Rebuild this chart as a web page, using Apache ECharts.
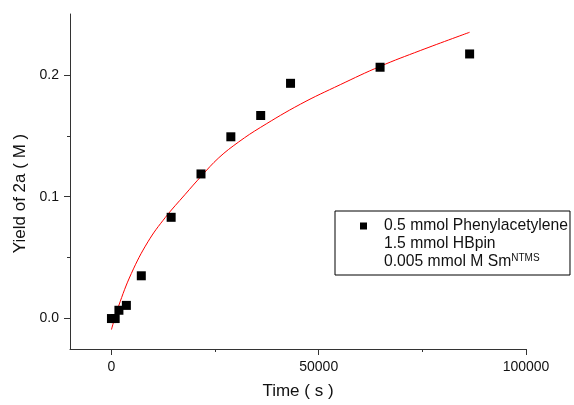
<!DOCTYPE html>
<html>
<head>
<meta charset="utf-8">
<script src="https://cdn.jsdelivr.net/npm/echarts@6/dist/echarts.min.js"></script>
<style>
  html, body { margin: 0; padding: 0; background: #fff; }
  #char { width: 574px; height: 405px; }
</style>
</head>
<body>
<div id="char"></div>
<script>
// measured points
var timeS = [0, 900, 1800, 3600, 7200, 14400, 21600, 28800, 36000, 43200, 64800, 86400]
var yieldM = [0, 0, 0.0068, 0.0108, 0.0351, 0.0831, 0.1187, 0.1492, 0.1667, 0.1931, 0.2063, 0.2172]

// red fit line
var fitT = [0, 1700, 4800, 8800, 13000, 17800, 21700, 25900, 30700, 36000, 45600, 55200, 64800, 74500, 86400]
var fitY = [-0.009, 0.010, 0.037, 0.063, 0.083, 0.102, 0.117, 0.132, 0.145, 0.157, 0.176, 0.192, 0.207, 0.220, 0.235]

var xTicks = [0, 50000, 100000]
var xMinor = [25000, 75000]
var yTicks = [0, 0.1, 0.2]
var yMinor = [0.05, 0.15]

var legendNames = ['0.5 mmol Phenylacetylene', '1.5 mmol HBpin', '0.005 mmol M SmNTMS']

var font = 'Liberation Sans, Arial, sans-serif'
var chart = echarts.init(document.getElementById('char'))

function pairs (xs, ys) {
  return xs.map(function (x, i) { return [x, ys[i]] })
}

var option = {
  backgroundColor: '#fff',
  animation: false,
  grid: { left: 70, right: 48, top: 14, bottom: 52, containLabel: false },
  legend: {
    left: 335,
    top: 211,
    orient: 'vertical',
    selectedMode: false,
    backgroundColor: '#fff',
    borderColor: '#000',
    borderWidth: 1,
    borderRadius: 0,
    padding: [6, 2, 4, 25],
    itemWidth: 7,
    itemHeight: 7,
    itemGap: 0,
    data: [
      { name: legendNames[0], icon: 'rect', itemStyle: { color: '#000', opacity: 1 } },
      { name: legendNames[1], icon: 'none' },
      { name: legendNames[2], icon: 'none' }
    ],
    formatter: function (name) {
      return name.replace('NTMS', '{sup|NTMS}')
    },
    textStyle: {
      fontFamily: font,
      fontSize: 15.7,
      lineHeight: 18,
      color: '#111',
      padding: [0, 0, 0, 12],
      rich: {
        sup: { fontFamily: font, fontSize: 10, color: '#111', padding: [0, 0, 8, 0] }
      }
    }
  },
  xAxis: [{
    type: 'value',
    min: -10000,
    max: 100000,
    name: 'Time ( s )',
    nameLocation: 'middle',
    nameGap: 34,
    nameTextStyle: { fontFamily: font, fontSize: 17, color: '#111' },
    splitLine: { show: false },
    axisLine: { show: true, onZero: false, lineStyle: { color: '#333', width: 1 } },
    axisTick: { show: true, inside: false, length: 6, customValues: xTicks, lineStyle: { color: '#333' } },
    axisLabel: {
      show: true,
      customValues: xTicks,
      margin: 11,
      fontFamily: font,
      fontSize: 14,
      color: '#111',
      formatter: function (v) { return String(v) }
    }
  }, {
    type: 'value',
    min: -10000,
    max: 100000,
    position: 'bottom',
    splitLine: { show: false },
    axisLine: { show: false, onZero: false },
    axisTick: { show: true, inside: false, length: 3, customValues: xMinor, lineStyle: { color: '#333' } },
    axisLabel: { show: false }
  }],
  yAxis: [{
    type: 'value',
    min: -0.025,
    max: 0.25,
    name: 'Yield of 2a ( M )',
    nameLocation: 'middle',
    nameRotate: 90,
    nameGap: 36,
    nameTextStyle: { fontFamily: font, fontSize: 17, color: '#111', padding: [0, 24, 0, 0] },
    splitLine: { show: false },
    axisLine: { show: true, onZero: false, lineStyle: { color: '#333', width: 1 } },
    axisTick: { show: true, inside: false, length: 6, customValues: yTicks, lineStyle: { color: '#333' } },
    axisLabel: {
      show: true,
      customValues: yTicks,
      margin: 11,
      fontFamily: font,
      fontSize: 14,
      color: '#111',
      formatter: function (v) { return v.toFixed(1) }
    }
  }, {
    type: 'value',
    min: -0.025,
    max: 0.25,
    position: 'left',
    splitLine: { show: false },
    axisLine: { show: false, onZero: false },
    axisTick: { show: true, inside: false, length: 3, customValues: yMinor, lineStyle: { color: '#333' } },
    axisLabel: { show: false }
  }],
  series: [{
    name: 'fit',
    type: 'line',
    smooth: 0.4,
    showSymbol: false,
    symbol: 'none',
    lineStyle: { color: '#ff0000', width: 1 },
    data: pairs(fitT, fitY),
    z: 3
  }, {
    name: legendNames[0],
    type: 'scatter',
    symbol: 'rect',
    symbolSize: 9,
    itemStyle: { color: '#000', opacity: 1 },
    data: pairs(timeS, yieldM),
    z: 4
  }, {
    name: legendNames[1],
    type: 'scatter',
    data: []
  }, {
    name: legendNames[2],
    type: 'scatter',
    data: []
  }]
}

chart.setOption(option)
window.addEventListener('resize', function () { chart.resize() })
</script>
</body>
</html>
